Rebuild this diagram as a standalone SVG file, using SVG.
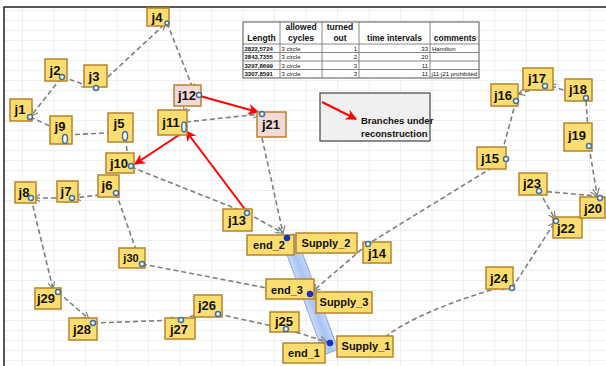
<svg xmlns="http://www.w3.org/2000/svg" width="606" height="366" viewBox="0 0 606 366">
<defs>
<pattern id="grid" x="22" y="0" width="31.5" height="10" patternUnits="userSpaceOnUse">
<path d="M0,0 V10 M0,0 H31.5" stroke="#d9d9d9" stroke-width="0.8" fill="none"/>
</pattern>
<marker id="ga" viewBox="0 0 8 8" refX="7" refY="4" markerWidth="8" markerHeight="8" markerUnits="userSpaceOnUse" orient="auto">
<path d="M0,0.5 L7,4 L0,7.5" fill="none" stroke="#7f7f7f" stroke-width="1.2"/>
</marker>
<marker id="ra" viewBox="0 0 10 10" refX="9" refY="5" markerWidth="11" markerHeight="11" markerUnits="userSpaceOnUse" orient="auto">
<path d="M0,0 L10,5 L0,10 L3,5 Z" fill="#ff0000"/>
</marker>
<linearGradient id="bar" x1="0" y1="0" x2="1" y2="0">
<stop offset="0" stop-color="#c9dbf8"/>
<stop offset="0.5" stop-color="#a9c3f2"/>
<stop offset="1" stop-color="#c3d6f7"/>
</linearGradient>
</defs>
<style>
.nd{fill:#fcdd6f;stroke:#b5832c;stroke-width:1.5}
.pk{fill:#f2d9d7;stroke:#b5832c;stroke-width:1.5}
.lb{font-family:"Liberation Sans",Arial,sans-serif;font-weight:bold;font-size:13px;fill:#111;text-anchor:middle}
.ls{font-family:"Liberation Sans",Arial,sans-serif;font-weight:bold;font-size:11px;fill:#111;text-anchor:middle}
.lg{font-family:"Liberation Sans",Arial,sans-serif;font-weight:bold;font-size:9.5px;fill:#111}
.cn{fill:none;stroke:#7f7f7f;stroke-width:1.6;stroke-dasharray:5 3}
.rd{fill:none;stroke:#ff0000;stroke-width:2}
.hp{fill:#fff;stroke:#41709c;stroke-width:1.5}
.bd{fill:#1230d8;stroke:#0a1f8c;stroke-width:0.6}
.th{font-family:"Liberation Sans",Arial,sans-serif;font-weight:bold;font-size:8.5px;fill:#111;text-anchor:middle}
.td{font-family:"Liberation Sans",Arial,sans-serif;font-size:6px;fill:#111}
.tb{font-family:"Liberation Sans",Arial,sans-serif;font-size:6px;font-weight:bold;fill:#111}
.tl{stroke:#6a6a6a;stroke-width:0.8}
</style>
<rect x="0" y="0" width="606" height="366" fill="#fff"/>
<rect x="4" y="7" width="602" height="359" fill="url(#grid)"/>
<path d="M4,366 V7 H606" fill="none" stroke="#222" stroke-width="1.5"/>

<g id="table">
<rect x="243" y="22" width="236" height="56" fill="#fff" stroke="#555" stroke-width="1"/>
<path class="tl" d="M280,22 V78 M322,22 V78 M359,22 V78 M430,22 V78 M243,44 H479 M243,52.5 H479 M243,61 H479 M243,69.5 H479"/>
<text class="th" x="261.5" y="41">Length</text>
<text class="th" x="301" y="30">allowed</text>
<text class="th" x="301" y="41">cycles</text>
<text class="th" x="340" y="30">turned</text>
<text class="th" x="340" y="41">out</text>
<text class="th" x="394.5" y="41">time intervals</text>
<text class="th" x="455" y="41">comments</text>
<text class="tb" x="244.5" y="50.5">2822,5724</text>
<text class="td" x="281.5" y="50.5">3 circle</text>
<text class="td" x="357" y="50.5" text-anchor="end">1</text>
<text class="td" x="428" y="50.5" text-anchor="end">33</text>
<text class="td" x="432" y="50.5">Hamilton</text>
<text class="tb" x="244.5" y="59">2843,7355</text>
<text class="td" x="281.5" y="59">3 circle</text>
<text class="td" x="357" y="59" text-anchor="end">2</text>
<text class="td" x="428" y="59" text-anchor="end">20</text>
<text class="tb" x="244.5" y="67.5">3297,8699</text>
<text class="td" x="281.5" y="67.5">3 circle</text>
<text class="td" x="357" y="67.5" text-anchor="end">3</text>
<text class="td" x="428" y="67.5" text-anchor="end">11</text>
<text class="tb" x="244.5" y="76">3307,8591</text>
<text class="td" x="281.5" y="76">3 circle</text>
<text class="td" x="357" y="76" text-anchor="end">3</text>
<text class="td" x="428" y="76" text-anchor="end">11</text>
<text class="td" x="431.5" y="76">j11-j21 prohibited</text>
</g>

<g id="legend">
<rect x="320" y="93" width="110" height="48" fill="#f0f0f0" stroke="#444" stroke-width="1.2"/>
<path class="rd" d="M322,102 L356,119" marker-end="url(#ra)"/>
<text class="lg" x="361" y="124">Branches under</text>
<text class="lg" x="361" y="137">reconstruction</text>
</g>

<g id="bar">
<rect x="302" y="232" width="15" height="124" rx="3" fill="url(#bar)" stroke="#8aaae4" stroke-width="1" transform="rotate(-20.3 309.5 294)"/>
</g>

<g id="connectors">
<path class="cn" d="M61,78 L31,116" marker-end="url(#ga)"/>
<path class="cn" d="M62,77 L89,86" marker-end="url(#ga)"/>
<path class="cn" d="M96,88 L166,23" marker-end="url(#ga)"/>
<path class="cn" d="M167,23 L194,91" marker-end="url(#ga)"/>
<path class="cn" d="M190,101 L184,114" marker-end="url(#ga)"/>
<path class="cn" d="M186,122 L260,114" marker-end="url(#ga)"/>
<path class="cn" d="M262,138 L283,233" marker-end="url(#ga)"/>
<path class="cn" d="M131,167 L247,213"/>
<path class="cn" d="M247,213 L283,233" marker-end="url(#ga)"/>
<path class="cn" d="M30,117 L63,132"/>
<path class="cn" d="M67,135 L123,132"/>
<path class="cn" d="M126,138 L127,153"/>
<path class="cn" d="M116,193 L74,198" marker-end="url(#ga)"/>
<path class="cn" d="M72,198 L33,198" marker-end="url(#ga)"/>
<path class="cn" d="M31,198 L53,289" marker-end="url(#ga)"/>
<path class="cn" d="M58,292 L89,319" marker-end="url(#ga)"/>
<path class="cn" d="M93,323 L178,320" marker-end="url(#ga)"/>
<path class="cn" d="M182,319 L214,310" marker-end="url(#ga)"/>
<path class="cn" d="M218,314 L286,329 L327,342" marker-end="url(#ga)"/>
<path class="cn" d="M116,193 L140,261" marker-end="url(#ga)"/>
<path class="cn" d="M142,264 L272,289" marker-end="url(#ga)"/>
<path class="cn" d="M506,159 L368,244"/>
<path class="cn" d="M368,244 L313,291" marker-end="url(#ga)"/>
<path class="cn" d="M516,101 L501,156" marker-end="url(#ga)"/>
<path class="cn" d="M545,86 L518,94" marker-end="url(#ga)"/>
<path class="cn" d="M586,98 L549,85" marker-end="url(#ga)"/>
<path class="cn" d="M589,146 L586,100"/>
<path class="cn" d="M589,146 L597,195" marker-end="url(#ga)"/>
<path class="cn" d="M539,191 L597,196" marker-end="url(#ga)"/>
<path class="cn" d="M539,191 L555,219" marker-end="url(#ga)"/>
<path class="cn" d="M512,288 L555,222" marker-end="url(#ga)"/>
<path class="cn" d="M385,337 Q420,310 508,285" marker-end="url(#ga)"/>
<path class="rd" d="M200,96 L258,112" marker-end="url(#ra)"/>
<path class="rd" d="M247,212 L186,131" marker-end="url(#ra)"/>
<path class="rd" d="M182,133 L135,164" marker-end="url(#ra)"/>
</g>

<g id="j4"><rect class="nd" x="147" y="8" width="22" height="18"/><text class="lb" x="157" y="22">j4</text><circle class="hp" cx="167" cy="23" r="2"/></g>
<g id="j2"><rect class="nd" x="45" y="59" width="22" height="22"/><text class="lb" x="55" y="75">j2</text><circle class="hp" cx="62" cy="77" r="2.5"/></g>
<g id="j3"><rect class="nd" x="84" y="65" width="23" height="22"/><text class="lb" x="94" y="81">j3</text><circle class="hp" cx="96" cy="88" r="2.5"/></g>
<g id="j1"><rect class="nd" x="10" y="99" width="22" height="22"/><text class="lb" x="20" y="114">j1</text><circle class="hp" cx="30" cy="117" r="2.5"/></g>
<g id="j9"><rect class="nd" x="50" y="116" width="22" height="28"/><text class="lb" x="60" y="131">j9</text><ellipse class="hp" cx="65" cy="139" rx="2.5" ry="4.5"/></g>
<g id="j5"><rect class="nd" x="108" y="113" width="25" height="29"/><text class="lb" x="119" y="128">j5</text><ellipse class="hp" cx="125" cy="136" rx="2.5" ry="4.5"/></g>
<g id="j12"><rect class="pk" x="174" y="85" width="27" height="21"/><text class="lb" x="187" y="100">j12</text><circle class="hp" cx="199" cy="95" r="2.5"/></g>
<g id="j11"><rect class="nd" x="158" y="110" width="29" height="25"/><text class="lb" x="171" y="127">j11</text><ellipse class="hp" cx="184" cy="127" rx="2.3" ry="5"/></g>
<g id="j21"><rect class="pk" x="257" y="112" width="29" height="25"/><text class="lb" x="271" y="129">j21</text><circle class="hp" cx="262" cy="114" r="2.5"/></g>
<g id="j10"><rect class="nd" x="106" y="153" width="28" height="20"/><text class="lb" x="119" y="168">j10</text><circle class="hp" cx="131" cy="166" r="2.5"/></g>
<g id="j8"><rect class="nd" x="15" y="182" width="21" height="21"/><text class="lb" x="24" y="197">j8</text><circle class="hp" cx="31" cy="198" r="2.5"/></g>
<g id="j7"><rect class="nd" x="57" y="181" width="21" height="21"/><text class="lb" x="66" y="196">j7</text><circle class="hp" cx="72" cy="198" r="2.5"/></g>
<g id="j6"><rect class="nd" x="98" y="175" width="21" height="22"/><text class="lb" x="107" y="190">j6</text><circle class="hp" cx="116" cy="193" r="2.5"/></g>
<g id="j30"><rect class="nd" x="119" y="248" width="26" height="20"/><text class="ls" x="131" y="262">j30</text><circle class="hp" cx="142" cy="264" r="2.5"/></g>
<g id="j13"><rect class="nd" x="223" y="209" width="29" height="22"/><text class="lb" x="237" y="225">j13</text><circle class="hp" cx="247" cy="213" r="2.5"/></g>
<g id="end_2"><rect class="nd" x="247" y="235" width="47" height="20"/><text class="ls" x="269" y="249">end_2</text><circle class="bd" cx="287" cy="238" r="3"/></g>
<g id="Supply_2"><rect class="nd" x="296" y="233" width="61" height="20"/><text class="ls" x="326" y="247">Supply_2</text></g>
<g id="j14"><rect class="nd" x="363" y="242" width="28" height="21"/><text class="lb" x="377" y="258">j14</text><circle class="hp" cx="368" cy="244" r="2.5"/></g>
<g id="end_3"><rect class="nd" x="266" y="279" width="48" height="20"/><text class="ls" x="287" y="294">end_3</text><circle class="bd" cx="310" cy="294" r="3"/></g>
<g id="Supply_3"><rect class="nd" x="316" y="292" width="56" height="21"/><text class="ls" x="344" y="306">Supply_3</text></g>
<g id="j25"><rect class="nd" x="270" y="312" width="29" height="20"/><text class="lb" x="284" y="326">j25</text><circle class="hp" cx="286" cy="329" r="2.5"/></g>
<g id="end_1"><rect class="nd" x="283" y="343" width="42" height="20"/><text class="ls" x="304" y="357">end_1</text></g>
<g id="Supply_1"><rect class="nd" x="337" y="336" width="56" height="21"/><text class="ls" x="366" y="350">Supply_1</text><circle class="bd" cx="330" cy="343" r="3"/></g>
<g id="j26"><rect class="nd" x="194" y="295" width="28" height="22"/><text class="lb" x="207" y="310">j26</text><circle class="hp" cx="218" cy="314" r="2.5"/></g>
<g id="j27"><rect class="nd" x="165" y="318" width="30" height="21"/><text class="lb" x="179" y="334">j27</text><circle class="hp" cx="181" cy="320" r="2.5"/></g>
<g id="j28"><rect class="nd" x="69" y="318" width="28" height="22"/><text class="lb" x="82" y="334">j28</text><circle class="hp" cx="93" cy="323" r="2.5"/></g>
<g id="j29"><rect class="nd" x="35" y="288" width="26" height="21"/><text class="lb" x="46" y="303">j29</text><circle class="hp" cx="58" cy="292" r="2.5"/></g>
<g id="j24"><rect class="nd" x="486" y="267" width="27" height="22"/><text class="lb" x="499" y="283">j24</text><circle class="hp" cx="512" cy="288" r="2.5"/></g>
<g id="j22"><rect class="nd" x="553" y="217" width="29" height="21"/><text class="lb" x="566" y="233">j22</text><circle class="hp" cx="556" cy="221" r="2.5"/></g>
<g id="j20"><rect class="nd" x="580" y="197" width="25" height="21"/><text class="lb" x="593" y="213">j20</text><circle class="hp" cx="600" cy="198" r="2.5"/></g>
<g id="j23"><rect class="nd" x="519" y="173" width="28" height="22"/><text class="lb" x="532" y="188">j23</text><circle class="hp" cx="539" cy="191" r="2.5"/></g>
<g id="j15"><rect class="nd" x="477" y="147" width="29" height="22"/><text class="lb" x="490" y="163">j15</text><circle class="hp" cx="506" cy="159" r="2.5"/></g>
<g id="j16"><rect class="nd" x="491" y="84" width="27" height="22"/><text class="lb" x="503" y="100">j16</text><circle class="hp" cx="516" cy="101" r="2.5"/></g>
<g id="j17"><rect class="nd" x="523" y="68" width="30" height="22"/><text class="lb" x="537" y="83">j17</text><circle class="hp" cx="545" cy="86" r="2.5"/></g>
<g id="j18"><rect class="nd" x="565" y="79" width="27" height="22"/><text class="lb" x="578" y="94">j18</text><circle class="hp" cx="586" cy="98" r="2.5"/></g>
<g id="j19"><rect class="nd" x="564" y="123" width="28" height="28"/><text class="lb" x="577" y="140">j19</text><circle class="hp" cx="589" cy="146" r="2.5"/></g>
</svg>
